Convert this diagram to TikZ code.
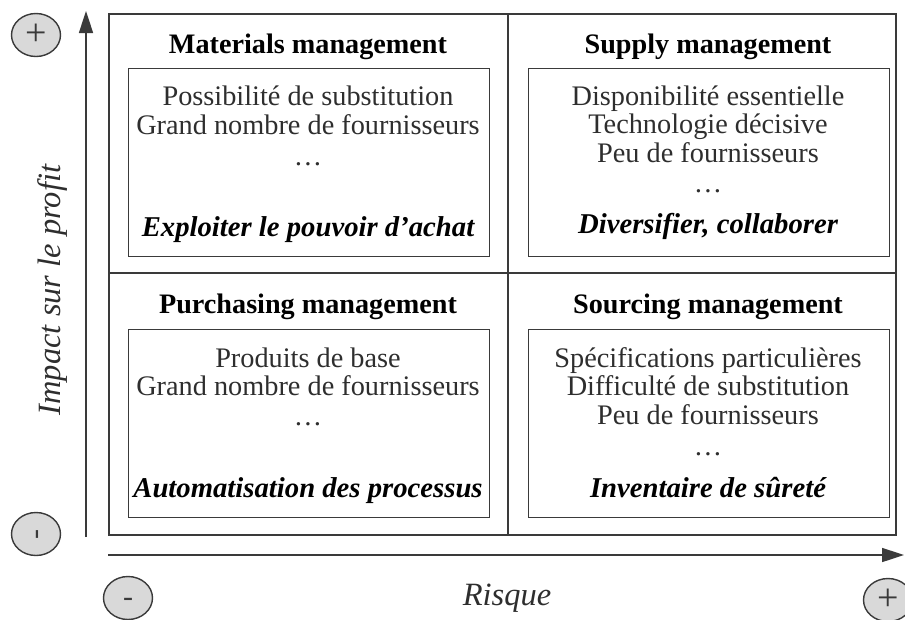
\documentclass[tikz,border=0pt]{standalone}
\usepackage{fontspec}
\setmainfont{Liberation Serif}
\usetikzlibrary{arrows.meta,shapes.geometric}
\definecolor{linegray}{HTML}{3A3A3A}
\definecolor{txtgray}{HTML}{2E2E2E}
\definecolor{circfill}{HTML}{D9D9D9}
\tikzset{
  frame/.style={draw=linegray, line width=1.6pt},
  inbox/.style={draw=linegray, line width=1.4pt, rectangle, inner sep=0pt},
  body/.style={text=txtgray, font=\fontsize{28.3}{32}\selectfont, inner sep=0pt, anchor=base},
  title/.style={text=black, font=\fontsize{28.2}{32}\selectfont\bfseries, inner sep=0pt, anchor=base},
  concl/.style={text=black, font=\fontsize{28.7}{32}\selectfont\bfseries\itshape, inner sep=0pt, anchor=base},
  sign/.style={ellipse, draw=linegray, line width=1.4pt, fill=circfill, minimum width=49pt, minimum height=43pt, inner sep=0pt, text=linegray},
  plus/.style={font=\fontsize{38}{40}\selectfont},
  minus/.style={font=\fontsize{30}{32}\selectfont},
  axis/.style={draw=linegray, line width=1.6pt, -{Triangle[length=22pt,width=14pt]}},
  axlabel/.style={text=txtgray, font=\fontsize{32.5}{36}\selectfont\itshape, inner sep=0pt, anchor=base},
}
\begin{document}
\begin{tikzpicture}[x=1pt,y=-1pt]
\useasboundingbox (0,0) rectangle (905,619);
% outer frame and dividers
\node[frame, rectangle, minimum width=787pt, minimum height=521pt, inner sep=0pt, anchor=north west] (outer) at (108,13) {};
\coordinate (vt) at (508,13);
\coordinate (vb) at (508,534);
\coordinate (hl) at (108,273);
\coordinate (hr) at (895,273);
\draw[frame] (vt) -- (vb);
\draw[frame] (hl) -- (hr);
% inner boxes
\node[inbox, minimum width=361pt, minimum height=188pt, anchor=north west] (tl) at (128,68) {};
\node[inbox, minimum width=361pt, minimum height=188pt, anchor=north west] (tr) at (528,68) {};
\node[inbox, minimum width=361pt, minimum height=188pt, anchor=north west] (bl) at (128,329) {};
\node[inbox, minimum width=361pt, minimum height=188pt, anchor=north west] (br) at (528,329) {};
% titles
\node[title] (t1) at (308,53) {Materials management};
\node[title] (t2) at (708,53) {Supply management};
\node[title] (t3) at (308,313) {Purchasing management};
\node[title] (t4) at (708,313) {Sourcing management};
% TL
\node[body] (a1) at (308,105) {Possibilité de substitution};
\node[body] (a2) at (308,134) {Grand nombre de fournisseurs};
\node[body] (a3) at (308,165) {\dots};
\node[concl] (a4) at (308,236) {Exploiter le pouvoir d’achat};
% TR
\node[body] (b1) at (708,105) {Disponibilité essentielle};
\node[body] (b2) at (708,133) {Technologie décisive};
\node[body] (b3) at (708,162) {Peu de fournisseurs};
\node[body] (b4) at (708,192) {\dots};
\node[concl] (b5) at (708,233) {Diversifier, collaborer};
% BL
\node[body] (c1) at (308,367) {Produits de base};
\node[body] (c2) at (308,395) {Grand nombre de fournisseurs};
\node[body] (c3) at (308,425) {\dots};
\node[concl] (c4) at (308,497) {Automatisation des processus};
% BR
\node[body] (d1) at (708,367) {Spécifications particulières};
\node[body] (d2) at (708,395) {Difficulté de substitution};
\node[body] (d3) at (708,424) {Peu de fournisseurs};
\node[body] (d4) at (708,455) {\dots};
\node[concl] (d5) at (708,497) {Inventaire de sûreté};
% axes
\coordinate (yb) at (86,537);
\coordinate (yt) at (86,11);
\coordinate (xl) at (108,555);
\coordinate (xr) at (904,555);
\draw[axis] (yb) -- (yt);
\draw[axis] (xl) -- (xr);
\node[axlabel, rotate=90] (ylab) at (60,290) {Impact sur le profit};
\node[axlabel] (xlab) at (507,605) {Risque};
% signs
\node[sign, plus] (s1) at (36,35) {+};
\node[sign, minus] (s2) at (36,534) {\rotatebox{90}{\raisebox{-8.5pt}[0pt][0pt]{-}}};
\node[sign, minus] (s3) at (128,598) {\raisebox{-8.5pt}[0pt][0pt]{-}};
\node[sign, plus] (s4) at (888,600) {+};
\end{tikzpicture}
\end{document}
